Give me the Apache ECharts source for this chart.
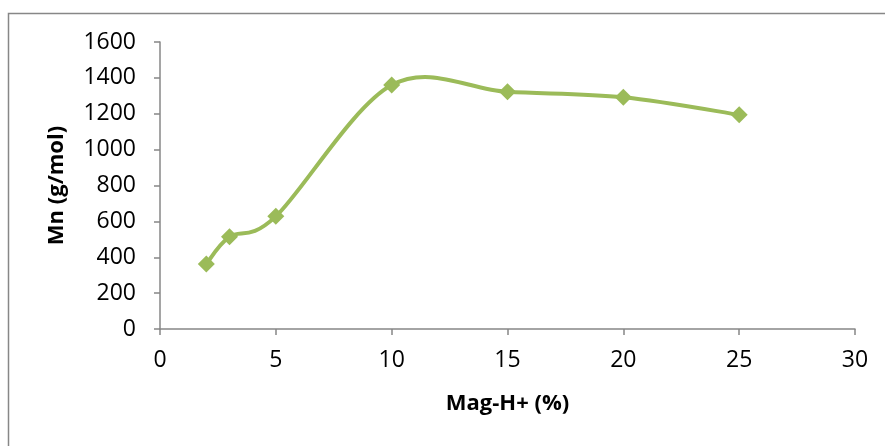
<!DOCTYPE html>
<html><head><meta charset="utf-8">
<script src="https://cdn.jsdelivr.net/npm/echarts@6/dist/echarts.min.js"></script>
<style>html,body{margin:0;padding:0;background:#fff}#c{width:885px;height:446px}</style>
</head><body><div id="c"></div>
<script>
const xValues = [2, 3, 5, 10, 15, 20, 25];
const mnValues = [362, 514, 628, 1360, 1322, 1292, 1194];
const xTitle = 'Mag-H+ (%)';
const yTitle = 'Mn (g/mol)';

const chart = echarts.init(document.getElementById('c'));
const font = '"Open Sans", "Liberation Sans", sans-serif';
const pts = xValues.map((x,i)=>[x, mnValues[i]]);
const green = '#9BBB59';

function renderCurve(params, api) {
  if (params.dataIndex !== 0) return null;
  const P = pts.map(p => api.coord(p));
  const n = P.length;
  let path = 'M' + P[0][0] + ' ' + P[0][1];
  for (let i = 0; i < n - 1; i++) {
    const p0 = P[Math.max(0, i-1)], p1 = P[i], p2 = P[i+1], p3 = P[Math.min(n-1, i+2)];
    const c1 = [p1[0] + (p2[0]-p0[0])/6, p1[1] + (p2[1]-p0[1])/6];
    const c2 = [p2[0] - (p3[0]-p1[0])/6, p2[1] - (p3[1]-p1[1])/6];
    path += ' C' + c1[0] + ' ' + c1[1] + ' ' + c2[0] + ' ' + c2[1] + ' ' + p2[0] + ' ' + p2[1];
  }
  return {type:'path', shape:{pathData:path}, style:{fill:null, stroke:green, lineWidth:4, lineCap:'round', lineJoin:'round'}};
}

chart.setOption({
  animation: false,
  graphic: [{type:'rect', shape:{x:8.5,y:13.5,width:900,height:460}, style:{fill:null,stroke:'#878787',lineWidth:1.5}, silent:true}],
  grid: {left:160, right:30, top:42, bottom:117, containLabel:false},
  xAxis: {
    type:'value', min:0, max:30, interval:5,
    name: xTitle, nameLocation:'middle', nameGap:64,
    nameTextStyle:{fontFamily:font, fontWeight:'bold', fontSize:22, color:'#000'},
    axisLine:{lineStyle:{color:'#878787', width:1.5}},
    axisTick:{show:true, length:6, lineStyle:{color:'#878787', width:1.5}},
    axisLabel:{fontFamily:font, fontSize:23, color:'#000', margin:20, formatter: v => String(v)},
    splitLine:{show:false}
  },
  yAxis: {
    type:'value', min:0, max:1600, interval:200,
    name: yTitle, nameLocation:'middle', nameGap:92, nameRotate:90,
    nameTextStyle:{fontFamily:font, fontWeight:'bold', fontSize:22, color:'#000'},
    axisLine:{show:true, lineStyle:{color:'#878787', width:1.5}},
    axisTick:{show:true, length:6, lineStyle:{color:'#878787', width:1.5}},
    axisLabel:{fontFamily:font, fontSize:23, color:'#000', margin:24, formatter: v => String(v)},
    splitLine:{show:false}
  },
  series: [{
    type:'custom', renderItem: renderCurve, data: pts, silent:true, z:2
  }, {
    type:'scatter', data: pts, symbol:'diamond', symbolSize:17,
    itemStyle:{color:green, opacity:1}, z:3
  }]
});
</script></body></html>
